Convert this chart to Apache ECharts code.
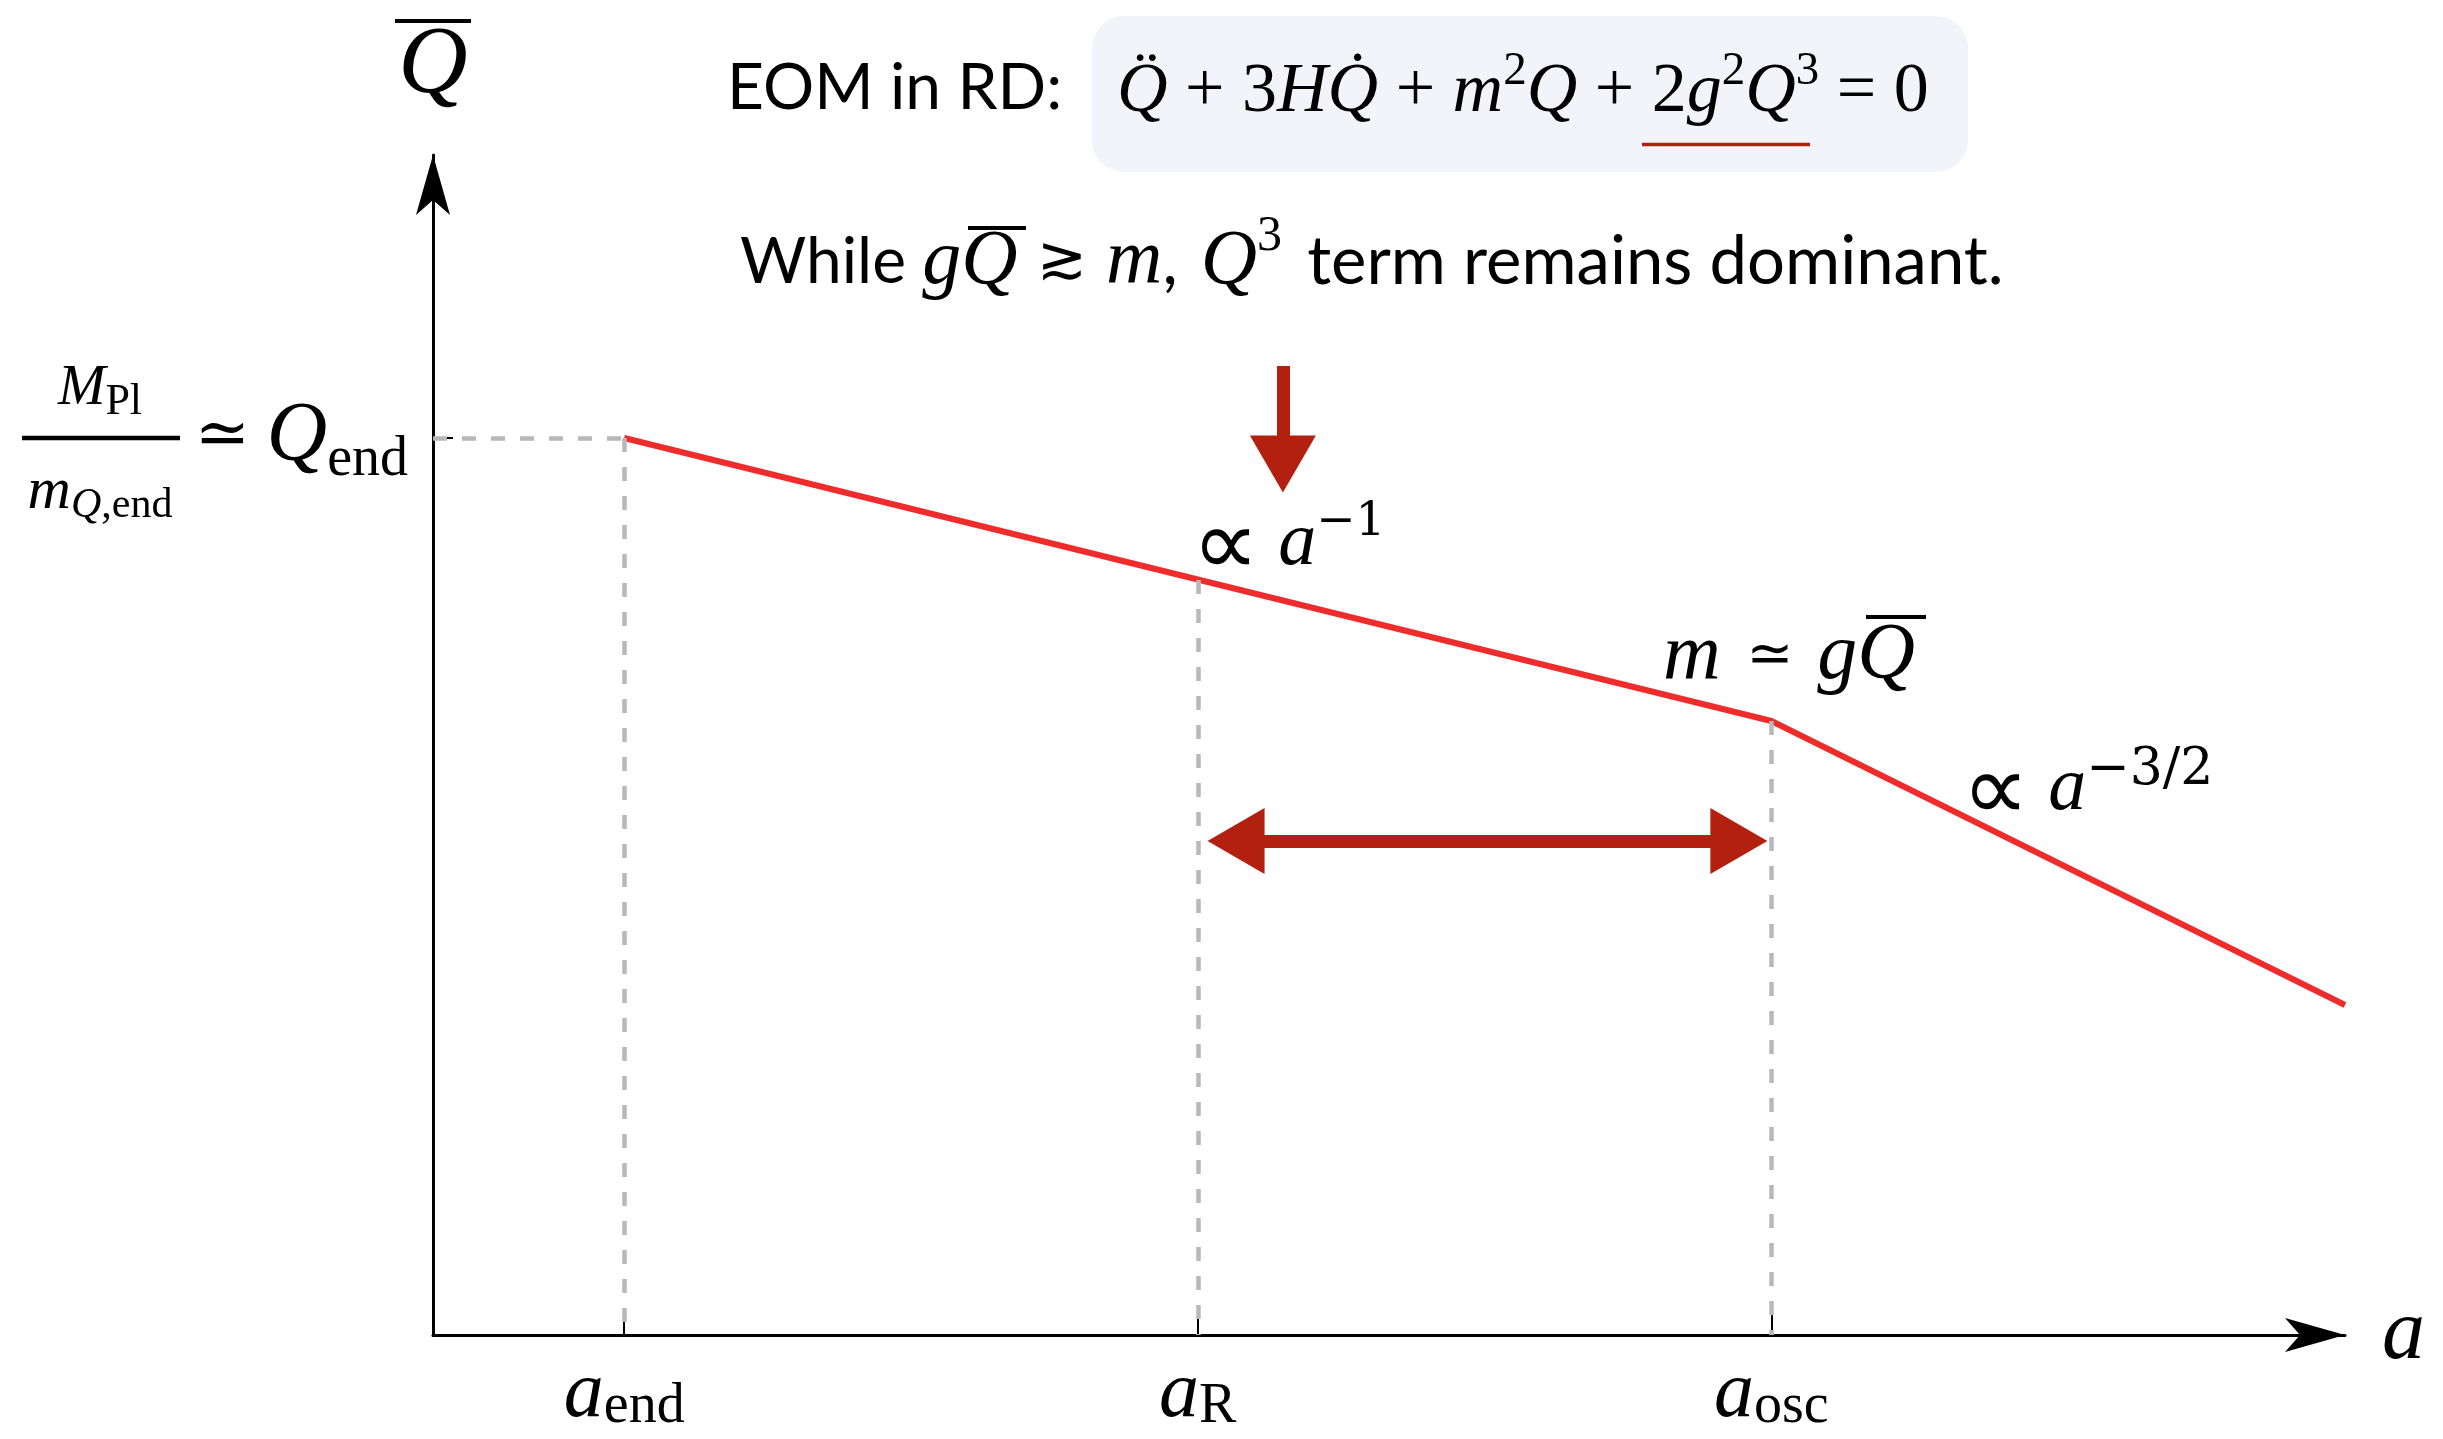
<!DOCTYPE html>
<html>
<head>
<meta charset="utf-8">
<title>Q bar vs a</title>
<script src="https://cdn.jsdelivr.net/npm/echarts@6/dist/echarts.min.js"></script>
<style>
  html, body { margin: 0; padding: 0; background: #fff; }
  #chart { width: 2443px; height: 1439px; }
</style>
</head>
<body>
<div id="chart"></div>
<script>
// sketch units: scale factor a on x, field amplitude Q on y
const tickA = [1, 4, 7];                 // a_end, a_R, a_osc
const tickNames = ['end', 'R', 'osc'];
const guideTop = [8.97, 7.55, 6.14];     // where the dashed guides meet the curve
const qEnd = 8.97;
const curveA = [1, 7, 10];
const curveQ = [8.97, 6.14, 3.30];
// the hand drawn arrows (data units)
const rangeArrowA = [4.20, 6.83];
const rangeArrowQ = 4.94;
const dropArrowA = 4.445;
const dropArrowQ = [9.69, 8.71];

const SERIF = '"Liberation Serif", "DejaVu Serif", serif';
const SANS = 'Lato, "Noto Sans", sans-serif';
const SYM = '"DejaVu Sans", sans-serif';
const RED = '#ee2c2c';
const DARKRED = '#b3200f';

function mi(size, lh, extra) { // math italic
  return Object.assign({fontFamily: SERIF, fontStyle: 'italic', fontSize: size, lineHeight: lh, color: '#000'}, extra || {});
}
function rm(size, lh, extra) { // math roman
  return Object.assign({fontFamily: SERIF, fontSize: size, lineHeight: lh, color: '#000'}, extra || {});
}
function sym(size, lh, extra) { // relation symbols
  return Object.assign({fontFamily: SYM, fontSize: size, lineHeight: lh, color: '#000'}, extra || {});
}
function sup(size, lh) {
  return {fontFamily: '"DejaVu Serif", serif', fontSize: size, lineHeight: lh, verticalAlign: 'top', color: '#000'};
}

// wavy underline under 2g^2Q^3
let wave = [];
for (let x = 1642; x <= 1812; x += 4) {
  wave.push([x, 143 + ((x / 4) % 2 ? 1.5 : -1.5)]);
}

let chart = echarts.init(document.getElementById('chart'));

let curveData = curveA.map((a, i) => [a, curveQ[i]]);

let guideLines = tickA.map((a, i) => [{coord: [a, guideTop[i]]}, {coord: [a, 0]}]);
guideLines.push([{coord: [0, qEnd]}, {coord: [tickA[0], qEnd]}]);

let option = {
  animation: false,
  backgroundColor: '#fff',
  grid: {left: 433, right: 98, top: 155, bottom: 104, outerBoundsMode: 'none'},
  xAxis: {
    type: 'value',
    min: 0,
    max: 10,
    name: 'a',
    nameLocation: 'end',
    nameGap: 37,
    nameTextStyle: {fontFamily: SERIF, fontStyle: 'italic', fontSize: 86, color: '#000',
      verticalAlign: 'middle', padding: [0, 0, 14, 0]},
    axisLine: {
      lineStyle: {color: '#000', width: 3},
      symbol: ['none', 'arrow'],
      symbolSize: [25.5, 60],
      symbolOffset: [0, 0]
    },
    axisTick: {customValues: tickA, inside: true, length: 20, lineStyle: {color: '#000', width: 2}},
    axisLabel: {
      customValues: tickA,
      margin: 20,
      formatter: function (v) {
        let i = tickA.indexOf(v);
        return '{a|a}{s|' + tickNames[i] + '}';
      },
      rich: {
        a: mi(80, 80),
        s: rm(56, 42, {verticalAlign: 'bottom'})
      }
    },
    splitLine: {show: false}
  },
  yAxis: {
    type: 'value',
    min: 0,
    max: 11.8,
    name: '{ov|}\n{q|Q}',
    nameLocation: 'end',
    nameGap: 46,
    nameTextStyle: {
      rich: {
        ov: {width: 76, height: 4, lineHeight: 8, backgroundColor: '#000', align: 'center'},
        q: mi(96, 84, {align: 'center'})
      }
    },
    axisLine: {
      lineStyle: {color: '#000', width: 3},
      symbol: ['none', 'arrow'],
      symbolSize: [25.5, 60],
      symbolOffset: [0, 0]
    },
    axisTick: {customValues: [qEnd], inside: true, length: 20, lineStyle: {color: '#000', width: 2}},
    axisLabel: {
      customValues: [qEnd],
      margin: 25,
      formatter: function () {
        return '{ap|\u2243 }{q|Q}{s|end}';
      },
      rich: {
        ap: rm(66, 100),
        q: mi(84, 100),
        s: rm(56, 74, {verticalAlign: 'bottom'})
      }
    },
    splitLine: {show: false}
  },
  series: [
    {
      name: 'guides',
      type: 'line',
      data: [],
      z: 1,
      markLine: {
        silent: true,
        symbol: 'none',
        label: {show: false},
        lineStyle: {color: '#b8b8b8', width: 4.5, type: [14, 15]},
        emphasis: {disabled: true},
        data: guideLines
      }
    },
    {
      name: 'Q',
      type: 'line',
      data: curveData,
      z: 3,
      symbol: 'none',
      lineStyle: {color: RED, width: 6},
      clip: false
    },
    {
      name: 'arrows',
      type: 'line',
      data: [],
      z: 4,
      markLine: {
        silent: true,
        label: {show: false},
        symbolSize: [66, 57],
        lineStyle: {color: DARKRED, width: 13, type: 'solid', opacity: 1},
        itemStyle: {color: DARKRED},
        emphasis: {disabled: true},
        data: [
          [{coord: [rangeArrowA[0], rangeArrowQ], symbol: 'triangle'},
           {coord: [rangeArrowA[1], rangeArrowQ], symbol: 'triangle'}],
          [{coord: [dropArrowA, dropArrowQ[0]], symbol: 'none'},
           {coord: [dropArrowA, dropArrowQ[1]], symbol: 'triangle'}]
        ]
      }
    }
  ],
  graphic: [
    // equation box
    {type: 'rect', z: 0, shape: {x: 1092, y: 16, width: 876, height: 156, r: 32}, style: {fill: '#f3f4f9'}},
    {type: 'text', x: 727, y: 88, style: {text: 'EOM in RD:', fontFamily: SANS, fontSize: 64, fill: '#000', verticalAlign: 'middle'}},
    {
      type: 'text', x: 1117, y: 93,
      style: {
        text: '{e|Q\u0308}{r| + 3}{e|HQ\u0307}{r| + }{e|m}{s|2}{e|Q}{r| + 2}{e|g}{s|2}{e|Q}{s|3}{r| = 0}',
        verticalAlign: 'middle',
        rich: {e: mi(70, 90), r: rm(70, 90), s: rm(47, 50, {verticalAlign: 'top'})}
      }
    },
    {type: 'polyline', shape: {points: wave}, style: {stroke: DARKRED, lineWidth: 3.5, fill: null}},
    // second line
    {
      type: 'text', x: 740, y: 262,
      style: {
        text: '{t|While }{e|gQ}{op| \u2273 }{e|m}{c|, }{e|Q}{s|3}{u| term remains dominant.}',
        verticalAlign: 'middle',
        rich: {
          t: {fontFamily: SANS, fontSize: 64, lineHeight: 100, color: '#000'},
          u: {fontFamily: SANS, fontSize: 67, lineHeight: 100, color: '#000'},
          c: {fontFamily: SANS, fontSize: 67, lineHeight: 100, color: '#000', padding: [0, 6, 0, 0]},
          e: mi(78, 100),
          op: sym(60, 100),
          s: rm(50, 56, {verticalAlign: 'top', padding: [0, 8, 0, 0]})
        }
      }
    },
    {type: 'line', shape: {x1: 968, y1: 228, x2: 1026, y2: 228}, style: {stroke: '#000', lineWidth: 4}},
    // slope labels
    {
      type: 'text', x: 1192, y: 544,
      style: {
        text: '{p|\u221D}{e| a}{s|\u22121}',
        verticalAlign: 'middle',
        rich: {p: sym(94, 90, {padding: [14, 0, 0, 0]}), e: mi(76, 90), s: sup(47, 29)}
      }
    },
    {
      type: 'text', x: 1663, y: 657,
      style: {
        text: '{e|m}{r| \u2243 }{e|gQ}',
        verticalAlign: 'middle',
        rich: {e: mi(80, 90), r: sym(56, 90, {padding: [0, 6, 0, 8]})}
      }
    },
    {type: 'line', shape: {x1: 1866, y1: 617, x2: 1926, y2: 617}, style: {stroke: '#000', lineWidth: 4}},
    {
      type: 'text', x: 1962, y: 789,
      style: {
        text: '{p|\u221D}{e| a}{s|\u22123/2}',
        verticalAlign: 'middle',
        rich: {p: sym(94, 90, {padding: [14, 0, 0, 0]}), e: mi(76, 90), s: sup(52, 43)}
      }
    },
    // fraction M_Pl / m_Q,end on the y axis
    {
      type: 'text', x: 100, y: 389,
      style: {
        text: '{e|M}{s|Pl}',
        align: 'center', verticalAlign: 'middle',
        rich: {e: mi(57, 70), s: rm(44, 38, {verticalAlign: 'bottom'})}
      }
    },
    {type: 'line', shape: {x1: 22, y1: 438, x2: 180, y2: 438}, style: {stroke: '#000', lineWidth: 4.5}},
    {
      type: 'text', x: 100, y: 492,
      style: {
        text: '{e|m}{si|Q}{s|,end}',
        align: 'center', verticalAlign: 'middle',
        rich: {e: mi(60, 70), si: mi(42, 34, {verticalAlign: 'bottom'}), s: rm(42, 34, {verticalAlign: 'bottom'})}
      }
    }
  ]
};

chart.setOption(option);
</script>
</body>
</html>
